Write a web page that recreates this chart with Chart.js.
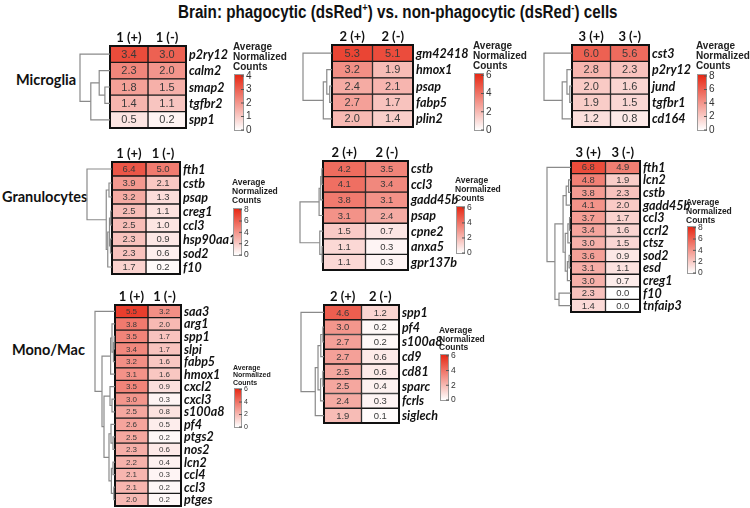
<!DOCTYPE html>
<html>
<head>
<meta charset="utf-8">
<title>Brain: phagocytic vs. non-phagocytic cells</title>
<script src="https://cdn.jsdelivr.net/npm/chart.js@4.4.1/dist/chart.umd.min.js"></script>
<style>
  body { margin: 0; background: #fff; }
  #page { position: relative; width: 750px; height: 508px; overflow: hidden; }
  #page canvas { position: absolute; left: 0; top: 0; }
  .title {
    position: absolute; left: 178px; top: 1px; white-space: nowrap;
    font: bold 18px "Liberation Sans", Arial, sans-serif; color: #111;
    transform: scaleX(0.845); transform-origin: left top;
  }
  .title sup { font-size: 11px; }
  .section {
    position: absolute; white-space: nowrap;
    font: bold 14.5px Lato, "Open Sans", sans-serif; color: #111;
  }
</style>
</head>
<body>
<div id="page">
  <div class="title">Brain: phagocytic (dsRed<sup>+</sup>) vs. non-phagocytic (dsRed<sup>-</sup>) cells</div>
  <div class="section" style="left:16px; top:71px;">Microglia</div>
  <div class="section" style="left:2px; top:188px;">Granulocytes</div>
  <div class="section" style="left:12px; top:341px;">Mono/Mac</div>
</div>
<script>
// ---- data ----
const mg1Genes = ["p2ry12", "calm2", "smap2", "tgfbr2", "spp1"];
const mg1Pos = [3.4, 2.3, 1.8, 1.4, 0.5];
const mg1Neg = [3.0, 2.0, 1.5, 1.1, 0.2];
const mg1Tree = [1, 0, [0.64, [0.36, 1, [0.17, 2, 3]], 4]];

const mg2Genes = ["gm42418", "hmox1", "psap", "fabp5", "plin2"];
const mg2Pos = [5.3, 3.2, 2.4, 2.7, 2.0];
const mg2Neg = [5.1, 1.9, 2.1, 1.7, 1.4];
const mg2Tree = [1, 0, [0.3, [0.18, 1, [0.08, 2, 3]], 4]];

const mg3Genes = ["cst3", "p2ry12", "jund", "tgfbr1", "cd164"];
const mg3Pos = [6.0, 2.8, 2.0, 1.9, 1.2];
const mg3Neg = [5.6, 2.3, 1.6, 1.5, 0.8];
const mg3Tree = [1, 0, [0.35, [0.18, 1, [0.08, 2, 3]], 4]];

const gr1Genes = ["fth1", "cstb", "psap", "creg1", "ccl3", "hsp90aa1", "sod2", "f10"];
const gr1Pos = [6.4, 3.9, 3.2, 2.5, 2.5, 2.3, 2.3, 1.7];
const gr1Neg = [5.0, 2.1, 1.3, 1.1, 1.0, 0.9, 0.6, 0.2];
const gr1Tree = [1, 0, [0.23, [0.12, 1, 2], [0.17, [0.1, [0.05, 3, 4], [0.06, 5, 6]], 7]]];

const gr2Genes = ["cstb", "ccl3", "gadd45b", "psap", "cpne2", "anxa5", "gpr137b"];
const gr2Pos = [4.2, 4.1, 3.8, 3.1, 1.5, 1.1, 1.1];
const gr2Neg = [3.5, 3.4, 3.1, 2.4, 0.7, 0.3, 0.3];
const gr2Tree = [1, [0.17, [0.1, [0.05, 0, 1], 2], 3], [0.14, 4, [0.04, 5, 6]]];

const gr3Genes = ["fth1", "lcn2", "cstb", "gadd45b", "ccl3", "ccrl2", "ctsz", "sod2", "esd", "creg1", "f10", "tnfaip3"];
const gr3Pos = [6.8, 4.8, 3.8, 4.1, 3.7, 3.4, 3.0, 3.6, 3.1, 3.0, 2.3, 1.4];
const gr3Neg = [4.9, 1.9, 2.3, 2.0, 1.7, 1.6, 1.5, 0.9, 1.1, 0.7, 0.0, 0.0];
const gr3Tree = [1, 0, [0.67, [0.33, [0.2, [0.1, 1, 2], 3], [0.24, [0.13, [0.06, 4, 5], 6], [0.15, [0.08, 7, 8], 9]]], [0.5, 10, 11]]];

const mm1Genes = ["saa3", "arg1", "spp1", "slpi", "fabp5", "hmox1", "cxcl2", "cxcl3", "s100a8", "pf4", "ptgs2", "nos2", "lcn2", "ccl4", "ccl3", "ptges"];
const mm1Pos = [5.5, 3.8, 3.5, 3.4, 3.2, 3.1, 3.5, 3.0, 2.5, 2.6, 2.5, 2.3, 2.2, 2.1, 2.1, 2.0];
const mm1Neg = [3.2, 2.0, 1.7, 1.7, 1.6, 1.6, 0.9, 0.3, 0.8, 0.5, 0.2, 0.6, 0.4, 0.3, 0.2, 0.2];
const mm1Tree = [1, 0, [0.65, [0.22, [0.15, 1, [0.08, [0.04, 2, 3], 4]], 5],
  [0.55, [0.25, 6, [0.15, 7, 8]], [0.3, [0.2, 9, [0.1, 10, 11]], [0.18, [0.1, 12, 13], [0.06, 14, 15]]]]]];

const mm2Genes = ["spp1", "pf4", "s100a8", "cd9", "cd81", "sparc", "fcrls", "siglech"];
const mm2Pos = [4.6, 3.0, 2.7, 2.7, 2.5, 2.5, 2.4, 1.9];
const mm2Neg = [1.2, 0.2, 0.2, 0.6, 0.6, 0.4, 0.3, 0.1];
const mm2Tree = [1, 0, [0.38, [0.26, [0.14, [0.05, 1, 2], 3], [0.15, [0.05, 4, 5], 6]], 7]];

const ticks4 = [0, 1, 2, 3, 4];
const ticks6 = [0, 2, 4, 6];
const ticks8 = [0, 2, 4, 6, 8];

const RED = [230, 36, 16];

function heat(v, max) {
  const t = Math.max(0, Math.min(1, v / max));
  const c = RED.map((ch) => Math.round(255 + (ch - 255) * t));
  return `rgb(${c[0]},${c[1]},${c[2]})`;
}

function drawTree(ctx, node, yScale, left, width) {
  if (typeof node === "number") {
    return { x: left, y: yScale.getPixelForValue(node) };
  }
  const a = drawTree(ctx, node[1], yScale, left, width);
  const b = drawTree(ctx, node[2], yScale, left, width);
  const x = left - node[0] * width;
  ctx.beginPath();
  ctx.moveTo(a.x, a.y);
  ctx.lineTo(x, a.y);
  ctx.lineTo(x, b.y);
  ctx.lineTo(b.x, b.y);
  ctx.stroke();
  return { x, y: (a.y + b.y) / 2 };
}

function decor(p) {
  return {
    id: "decor",
    afterDatasetsDraw(chart) {
      const { ctx, chartArea: area, scales: { x, y } } = chart;
      ctx.save();

      // numbers in the cells
      ctx.font = `${p.valueSize}px "Liberation Sans", Arial, sans-serif`;
      ctx.fillStyle = "#3a3a3a";
      ctx.textAlign = "center";
      ctx.textBaseline = "middle";
      chart.data.datasets.forEach((ds, di) => {
        chart.getDatasetMeta(di).data.forEach((bar, i) => {
          ctx.fillText(ds.values[i].toFixed(1), (bar.x + bar.base) / 2, bar.y + 0.5);
        });
      });

      ctx.strokeStyle = "#111";
      ctx.lineWidth = 2;
      ctx.strokeRect(area.left, area.top, area.width, area.height);

      // column headers
      ctx.fillStyle = "#111";
      ctx.textBaseline = "alphabetic";
      ctx.font = `bold ${p.colSize}px Lato, sans-serif`;
      p.columns.forEach((lab, c) => {
        ctx.fillText(lab, x.getPixelForValue(c + 0.5), area.top - 4);
      });

      // gene names
      ctx.textAlign = "left";
      ctx.textBaseline = "middle";
      ctx.font = `italic bold ${p.rowSize}px Lato, sans-serif`;
      chart.data.labels.forEach((g, i) => {
        ctx.fillText(g, area.right + 3, y.getPixelForValue(i) + 0.5);
      });

      // dendrogram
      ctx.strokeStyle = "#8a8a8a";
      ctx.lineWidth = 1.2;
      drawTree(ctx, p.tree, y, area.left, p.treeWidth);

      // colour key
      const cb = p.key;
      const grad = ctx.createLinearGradient(0, cb.y + cb.h, 0, cb.y);
      grad.addColorStop(0, heat(0, p.max));
      grad.addColorStop(0.5, heat(p.max / 2, p.max));
      grad.addColorStop(1, heat(p.max, p.max));
      ctx.fillStyle = grad;
      ctx.fillRect(cb.x, cb.y, cb.w, cb.h);
      ctx.strokeStyle = "#9a9a9a";
      ctx.lineWidth = 1;
      ctx.strokeRect(cb.x + 0.5, cb.y + 0.5, cb.w, cb.h);

      ctx.fillStyle = "#333";
      ctx.font = `${cb.font}px "Liberation Sans", Arial, sans-serif`;
      ctx.strokeStyle = "#555";
      p.ticks.forEach((t) => {
        const ty = cb.y + cb.h - (t / p.max) * cb.h;
        ctx.beginPath();
        ctx.moveTo(cb.x + cb.w - 2, ty);
        ctx.lineTo(cb.x + cb.w + 1, ty);
        ctx.stroke();
        ctx.fillText(String(t), cb.x + cb.w + 3, ty);
      });

      ctx.fillStyle = "#222";
      ctx.font = `bold ${cb.font}px "Liberation Sans", Arial, sans-serif`;
      ["Average", "Normalized", "Counts"].forEach((line, k) => {
        ctx.fillText(line, cb.x - 1, cb.titleY + k * cb.lineGap);
      });

      ctx.restore();
    }
  };
}

function heatmap(genes, pos, neg, tree, columns, ticks, max, s) {
  const canvas = document.createElement("canvas");
  canvas.width = 750;
  canvas.height = 508;
  document.querySelector("#page").append(canvas);

  const ds = (vals, range) => ({
    data: vals.map(() => range),
    values: vals,
    backgroundColor: vals.map((v) => heat(v, max)),
    borderColor: "#1a1a1a",
    borderWidth: 1,
    borderSkipped: false,
    grouped: false,
    categoryPercentage: 1,
    barPercentage: 1
  });

  return new Chart(canvas, {
    type: "bar",
    data: {
      labels: genes,
      datasets: [ds(pos, [0, 1]), ds(neg, [1, 2])]
    },
    options: {
      responsive: false,
      animation: false,
      indexAxis: "y",
      layout: {
        padding: { left: s.box[0], top: s.box[1], right: 750 - s.box[2], bottom: 508 - s.box[3] }
      },
      scales: {
        x: { type: "linear", min: 0, max: 2, display: false },
        y: { display: false }
      },
      plugins: { legend: { display: false }, tooltip: { enabled: false } }
    },
    plugins: [decor({
      tree, columns, ticks, max,
      treeWidth: s.treeWidth,
      valueSize: s.valueSize,
      colSize: s.colSize,
      rowSize: s.rowSize,
      key: s.key
    })]
  });
}

heatmap(mg1Genes, mg1Pos, mg1Neg, mg1Tree, ["1 (+)", "1 (-)"], ticks4, 4.15, {
  box: [110, 46, 186, 128], treeWidth: 30, valueSize: 11, colSize: 13, rowSize: 12.5,
  key: { x: 234, y: 74, w: 9, h: 56, font: 10, titleY: 47, lineGap: 10 }
});
heatmap(mg2Genes, mg2Pos, mg2Neg, mg2Tree, ["2 (+)", "2 (-)"], ticks6, 6.25, {
  box: [332, 45, 413, 127], treeWidth: 29, valueSize: 11, colSize: 13, rowSize: 12.5,
  key: { x: 474, y: 73, w: 9, h: 57, font: 10, titleY: 46, lineGap: 10 }
});
heatmap(mg3Genes, mg3Pos, mg3Neg, mg3Tree, ["3 (+)", "3 (-)"], ticks8, 8.3, {
  box: [572, 45, 649, 127], treeWidth: 28, valueSize: 11, colSize: 13, rowSize: 12.5,
  key: { x: 697, y: 74, w: 9, h: 56, font: 10, titleY: 46, lineGap: 10 }
});
heatmap(gr1Genes, gr1Pos, gr1Neg, gr1Tree, ["1 (+)", "1 (-)"], ticks8, 8.3, {
  box: [112, 162, 180, 274], treeWidth: 25, valueSize: 9.5, colSize: 13, rowSize: 12.5,
  key: { x: 233, y: 208, w: 8, h: 47, font: 8.5, titleY: 183, lineGap: 9 }
});
heatmap(gr2Genes, gr2Pos, gr2Neg, gr2Tree, ["2 (+)", "2 (-)"], ticks6, 6.25, {
  box: [323, 161, 408, 270], treeWidth: 23, valueSize: 9.5, colSize: 13, rowSize: 12.5,
  key: { x: 456, y: 206, w: 8, h: 47, font: 8.5, titleY: 181, lineGap: 9 }
});
heatmap(gr3Genes, gr3Pos, gr3Neg, gr3Tree, ["3 (+)", "3 (-)"], ticks8, 8.3, {
  box: [571, 161, 640, 312], treeWidth: 24, valueSize: 9.5, colSize: 13, rowSize: 12.5,
  key: { x: 687, y: 226, w: 8, h: 47, font: 8.5, titleY: 203, lineGap: 9 }
});
heatmap(mm1Genes, mm1Pos, mm1Neg, mm1Tree, ["1 (+)", "1 (-)"], ticks6, 6.25, {
  box: [115, 305, 181, 506], treeWidth: 20, valueSize: 8, colSize: 13, rowSize: 12.5,
  key: { x: 234, y: 388, w: 7, h: 39, font: 7, titleY: 368, lineGap: 7.5 }
});
heatmap(mm2Genes, mm2Pos, mm2Neg, mm2Tree, ["2 (+)", "2 (-)"], ticks6, 6.25, {
  box: [324, 305, 399, 423], treeWidth: 23, valueSize: 9.5, colSize: 13, rowSize: 12.5,
  key: { x: 440, y: 354, w: 8, h: 46, font: 8.5, titleY: 331, lineGap: 8.5 }
});
</script>
</body>
</html>
